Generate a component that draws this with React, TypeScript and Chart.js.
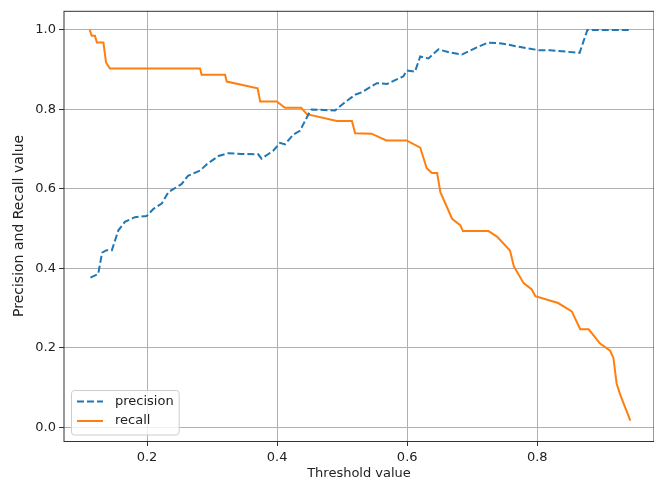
import React, { useEffect, useRef } from 'react';
import { Chart, registerables } from 'chart.js';

Chart.register(...registerables);

const FONT = "'DejaVu Sans', sans-serif";
const FS = 13;
const TEXT_COLOR = '#222';

// Threshold values (x) and precision / recall readings (y)
const precisionX = [0.113, 0.125, 0.128, 0.131, 0.138, 0.146, 0.156, 0.166, 0.1815, 0.1995, 0.210, 0.2226, 0.233, 0.241, 0.253, 0.263, 0.2815, 0.292, 0.310, 0.325, 0.345, 0.371, 0.376, 0.394, 0.4046, 0.412, 0.425, 0.435, 0.4508, 0.453, 0.489, 0.502, 0.520, 0.530, 0.5534, 0.569, 0.594, 0.5995, 0.612, 0.620, 0.6327, 0.648, 0.666, 0.684, 0.707, 0.7245, 0.745, 0.770, 0.802, 0.820, 0.865, 0.877, 0.942];
const precisionY = [0.377, 0.386, 0.413, 0.440, 0.446, 0.446, 0.496, 0.517, 0.529, 0.532, 0.550, 0.563, 0.592, 0.600, 0.612, 0.633, 0.646, 0.662, 0.683, 0.690, 0.688, 0.687, 0.676, 0.696, 0.716, 0.712, 0.737, 0.746, 0.796, 0.800, 0.797, 0.815, 0.837, 0.843, 0.866, 0.864, 0.883, 0.898, 0.895, 0.933, 0.928, 0.951, 0.943, 0.938, 0.956, 0.968, 0.966, 0.958, 0.949, 0.949, 0.942, 1.0, 1.0];

const recallX = [0.112, 0.115, 0.120, 0.123, 0.133, 0.137, 0.143, 0.2815, 0.284, 0.320, 0.3226, 0.370, 0.374, 0.3995, 0.412, 0.437, 0.4457, 0.4918, 0.515, 0.520, 0.545, 0.568, 0.599, 0.620, 0.630, 0.638, 0.646, 0.651, 0.669, 0.6815, 0.6857, 0.725, 0.738, 0.758, 0.764, 0.779, 0.7915, 0.797, 0.832, 0.853, 0.866, 0.879, 0.8965, 0.912, 0.917, 0.922, 0.928, 0.943];
const recallY = [1.0, 0.985, 0.985, 0.968, 0.968, 0.918, 0.903, 0.903, 0.887, 0.887, 0.870, 0.853, 0.820, 0.820, 0.804, 0.804, 0.788, 0.771, 0.771, 0.740, 0.739, 0.722, 0.722, 0.704, 0.652, 0.640, 0.640, 0.592, 0.525, 0.509, 0.494, 0.494, 0.480, 0.445, 0.405, 0.363, 0.347, 0.330, 0.313, 0.292, 0.247, 0.247, 0.211, 0.193, 0.175, 0.110, 0.080, 0.017];

const xTicks = [0.2, 0.4, 0.6, 0.8];
const yTicks = [0.0, 0.2, 0.4, 0.6, 0.8, 1.0];
const xRange = [0.0724, 0.9794];
const yRange = [-0.034, 1.048];

const seriesLabels = ['precision', 'recall'];
const seriesColors = ['#1f77b4', '#ff7f0e'];

export default function App() {
  const ref = useRef<HTMLCanvasElement | null>(null);

  useEffect(() => {
    if (!ref.current) return;

    const framePlugin = {
      id: 'frame',
      afterDatasetsDraw(chart: any) {
        const { ctx, chartArea: a } = chart;
        ctx.save();
        ctx.strokeStyle = '#333';
        ctx.lineWidth = 1;
        ctx.strokeRect(a.left, a.top + 0.5, a.right - a.left, a.bottom - a.top);
        ctx.restore();
      },
    };

    const legendPlugin = {
      id: 'mplLegend',
      afterDraw(chart: any) {
        const { ctx, chartArea: a } = chart;
        const ds = chart.data.datasets;
        ctx.save();
        ctx.font = `${FS}px ${FONT}`;
        const textW = Math.max(...ds.map((d: any) => ctx.measureText(d.label).width));
        const bx = a.left + 7;
        const bh = 44.5;
        const by = a.bottom - 6.5 - bh;
        const bw = 44 + textW + 5;
        ctx.beginPath();
        (ctx as any).roundRect(bx + 0.5, by + 0.5, bw, bh, 3);
        ctx.fillStyle = 'rgba(255,255,255,0.8)';
        ctx.fill();
        ctx.strokeStyle = '#cccccc';
        ctx.lineWidth = 1;
        ctx.stroke();
        ds.forEach((d: any, i: number) => {
          const cy = by + 11.5 + i * 19.5;
          ctx.beginPath();
          ctx.setLineDash(d.borderDash || []);
          ctx.strokeStyle = d.borderColor;
          ctx.lineWidth = d.borderWidth;
          ctx.moveTo(bx + 6, cy);
          ctx.lineTo(bx + 32, cy);
          ctx.stroke();
          ctx.setLineDash([]);
          ctx.fillStyle = TEXT_COLOR;
          ctx.textBaseline = 'middle';
          ctx.textAlign = 'left';
          ctx.fillText(d.label, bx + 44, cy);
        });
        ctx.restore();
      },
    };

    const chart = new Chart(ref.current, {
      type: 'scatter',
      data: {
        datasets: [
          {
            label: seriesLabels[0],
            data: precisionX.map((x, i) => ({ x, y: precisionY[i] })),
            showLine: true,
            borderColor: seriesColors[0],
            backgroundColor: seriesColors[0],
            borderDash: [7, 3],
            borderWidth: 2,
            pointRadius: 0,
            fill: false,
          },
          {
            label: seriesLabels[1],
            data: recallX.map((x, i) => ({ x, y: recallY[i] })),
            showLine: true,
            borderColor: seriesColors[1],
            backgroundColor: seriesColors[1],
            borderWidth: 2,
            pointRadius: 0,
            fill: false,
          },
        ],
      },
      options: {
        responsive: false,
        animation: false,
        layout: { padding: { top: 7, right: 0, left: 0, bottom: 0 } },
        plugins: { legend: { display: false }, tooltip: { enabled: false } },
        scales: {
          x: {
            type: 'linear',
            min: xRange[0],
            max: xRange[1],
            afterBuildTicks: (s: any) => {
              s.ticks = xTicks.map((v) => ({ value: v }));
            },
            afterFit: (s: any) => {
              s.height = 39;
            },
            grid: { color: '#b0b0b0', lineWidth: 1, tickLength: 5, tickColor: '#333', drawTicks: true },
            border: { display: false },
            ticks: {
              font: { family: FONT, size: FS },
              color: TEXT_COLOR,
              padding: 4,
              maxRotation: 0,
              autoSkip: false,
              callback: (v: any) => Number(v).toFixed(1),
            },
            title: {
              display: true,
              text: 'Threshold value',
              font: { family: FONT, size: FS },
              color: TEXT_COLOR,
              padding: { top: 0, bottom: -1.5 },
            },
          },
          y: {
            type: 'linear',
            min: yRange[0],
            max: yRange[1],
            afterBuildTicks: (s: any) => {
              s.ticks = yTicks.map((v) => ({ value: v }));
            },
            afterFit: (s: any) => {
              s.width = 64;
            },
            grid: { color: '#b0b0b0', lineWidth: 1, tickLength: 5, tickColor: '#333', drawTicks: true },
            border: { display: false },
            ticks: {
              font: { family: FONT, size: FS },
              color: TEXT_COLOR,
              padding: 3,
              autoSkip: false,
              callback: (v: any) => Number(v).toFixed(1),
            },
            title: {
              display: true,
              text: 'Precision and Recall value',
              font: { family: FONT, size: 14 },
              color: TEXT_COLOR,
              padding: { top: 11, bottom: 0 },
            },
          },
        },
      },
      plugins: [framePlugin, legendPlugin],
    } as any);

    return () => chart.destroy();
  }, []);

  return (
    <div style={{ position: 'fixed', left: 0, top: 0, width: 654, height: 480, background: '#fff' }}>
      <canvas ref={ref} width={654} height={480} style={{ display: 'block', width: 654, height: 480 }} />
    </div>
  );
}
